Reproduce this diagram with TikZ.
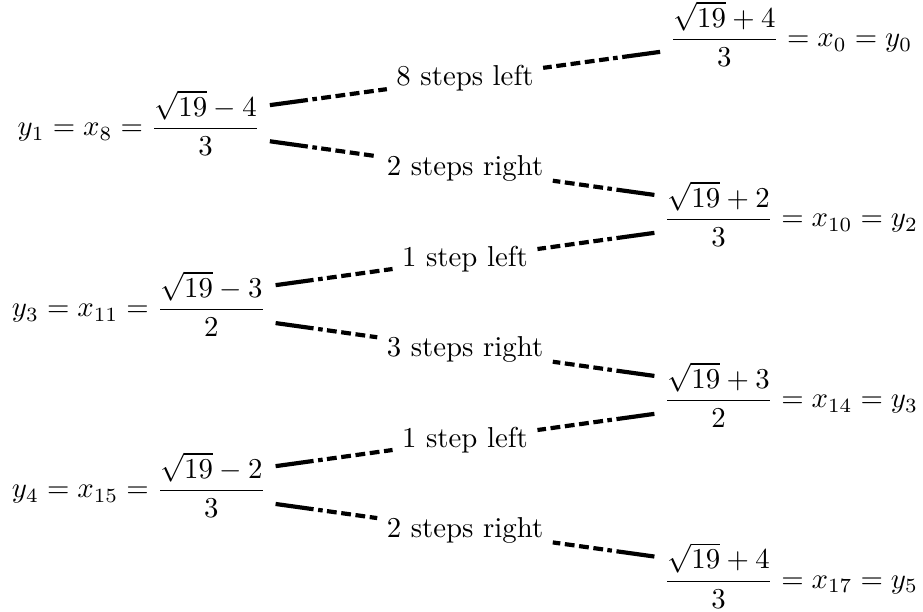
\documentclass[tikz,border=0pt]{standalone}
\usepackage{amsmath}
\usetikzlibrary{calc}
\tikzset{
  eq/.style={inner sep=0pt,outer sep=3.33pt},
  lab/.style={inner sep=0pt,outer sep=3.33pt},
  conn/.style={line width=1.45pt,
    dash pattern=on 13.3pt off 1.6pt on 1.6pt off 1.5pt on 3.4pt off 1.6pt on 3.4pt off 1.6pt on 3.4pt off 1.6pt on 3.4pt off 1.6pt on 3.4pt off 1.6pt on 3.4pt off 1.6pt on 3.4pt off 1.6pt on 3.4pt off 40pt}
}
\begin{document}
\begin{tikzpicture}[x=0.34722pt,y=-0.34722pt]
\useasboundingbox (0,0) rectangle (923,612);
\node[eq] (R0) at (791,34) {$\dfrac{\sqrt{19}+4}{3} = x_0 = y_0$};
\node[eq] (L1) at (139,123) {$y_1 = x_8 = \dfrac{\sqrt{19}-4}{3}$};
\node[eq] (R1) at (791,214) {$\dfrac{\sqrt{19}+2}{3} = x_{10} = y_2$};
\node[eq] (L2) at (139,304) {$y_3 = x_{11} = \dfrac{\sqrt{19}-3}{2}$};
\node[eq] (R2) at (791,395) {$\dfrac{\sqrt{19}+3}{2} = x_{14} = y_3$};
\node[eq] (L3) at (139,485) {$y_4 = x_{15} = \dfrac{\sqrt{19}-2}{3}$};
\node[eq] (R3) at (791,575.5) {$\dfrac{\sqrt{19}+4}{3} = x_{17} = y_5$};

\node[lab] (m1) at ($(L1)!0.5!(R0)$) {8 steps left};
\node[lab] (m2) at ($(L1)!0.5!(R1)$) {2 steps right};
\node[lab] (m3) at ($(L2)!0.5!(R1)$) {1 step left};
\node[lab] (m4) at ($(L2)!0.5!(R2)$) {3 steps right};
\node[lab] (m5) at ($(L3)!0.5!(R2)$) {1 step left};
\node[lab] (m6) at ($(L3)!0.5!(R3)$) {2 steps right};

\draw[conn] (L1) -- (m1); \draw[conn] (R0) -- (m1);
\draw[conn] (L1) -- (m2); \draw[conn] (R1) -- (m2);
\draw[conn] (L2) -- (m3); \draw[conn] (R1) -- (m3);
\draw[conn] (L2) -- (m4); \draw[conn] (R2) -- (m4);
\draw[conn] (L3) -- (m5); \draw[conn] (R2) -- (m5);
\draw[conn] (L3) -- (m6); \draw[conn] (R3) -- (m6);
\end{tikzpicture}
\end{document}
